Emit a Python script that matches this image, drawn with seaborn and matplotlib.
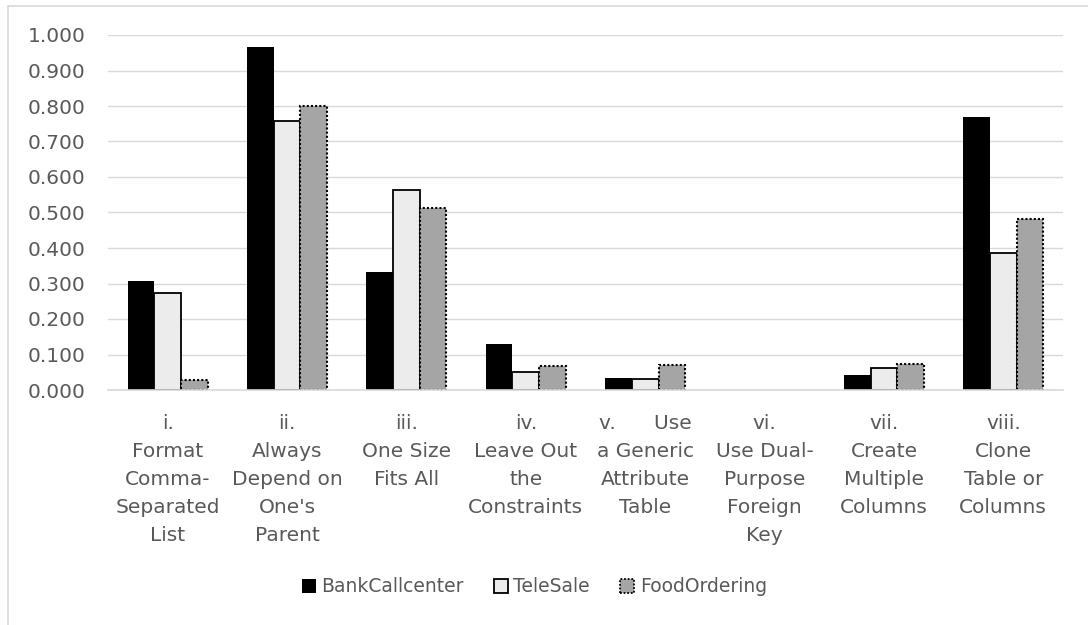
import matplotlib
matplotlib.use("Agg")
import matplotlib.pyplot as plt
from matplotlib.patches import Patch
from matplotlib.lines import Line2D
from matplotlib.ticker import FormatStrFormatter, MultipleLocator
import seaborn as sns
import pandas as pd

# Antipattern categories and scores per dataset
categories = [
    "i.\nFormat\nComma-\nSeparated\nList",
    "ii.\nAlways\nDepend on\nOne's\nParent",
    "iii.\nOne Size\nFits All",
    "iv.\nLeave Out\nthe\nConstraints",
    "v.      Use\na Generic\nAttribute\nTable",
    "vi.\nUse Dual-\nPurpose\nForeign\nKey",
    "vii.\nCreate\nMultiple\nColumns",
    "viii.\nClone\nTable or\nColumns",
]
series_names = ["BankCallcenter", "TeleSale", "FoodOrdering"]
bank_callcenter = [0.307, 0.967, 0.333, 0.130, 0.034, 0.000, 0.042, 0.770]
tele_sale = [0.274, 0.759, 0.563, 0.052, 0.030, 0.000, 0.061, 0.385]
food_ordering = [0.028, 0.800, 0.513, 0.068, 0.070, 0.000, 0.072, 0.483]

rows = []
for name, vals in zip(series_names, [bank_callcenter, tele_sale, food_ordering]):
    for cat, v in zip(categories, vals):
        rows.append({"category": cat, "series": name, "value": v})
df = pd.DataFrame(rows)

sns.set_style("white")
plt.rcParams["font.family"] = ["DejaVu Sans"]

TEXT = "#595959"
GRID = "#d9d9d9"
fills = {"BankCallcenter": "#000000", "TeleSale": "#ececec", "FoodOrdering": "#a5a5a5"}
edge_styles = {
    "BankCallcenter": dict(edgecolor="#000000", linewidth=0.0, linestyle="-"),
    "TeleSale": dict(edgecolor="#000000", linewidth=1.3, linestyle="-"),
    "FoodOrdering": dict(edgecolor="#000000", linewidth=1.5, linestyle=(0, (1, 1))),
}

fig = plt.figure(figsize=(10.88, 6.25), dpi=100)
ax = fig.add_axes([108 / 1088, 1 - 390 / 625, 955 / 1088, 355 / 625])

sns.barplot(
    data=df, x="category", y="value", hue="series",
    hue_order=series_names, order=categories,
    palette=fills, width=0.67, saturation=1.0,
    ax=ax, legend=False,
)

for name, container in zip(series_names, ax.containers):
    for bar in container:
        bar.set_linewidth(edge_styles[name]["linewidth"])
        bar.set_linestyle(edge_styles[name]["linestyle"])
        # empty bars get no outline
        bar.set_edgecolor(edge_styles[name]["edgecolor"] if bar.get_height() > 0 else "none")

ax.set_ylim(0, 1.0)
ax.set_xlim(-0.5, len(categories) - 0.5)
ax.yaxis.set_major_locator(MultipleLocator(0.1))
ax.yaxis.set_major_formatter(FormatStrFormatter("%.3f"))
ax.set_axisbelow(True)
ax.yaxis.grid(True, color=GRID, linewidth=1.0)
ax.xaxis.grid(False)

for side in ["top", "right", "left"]:
    ax.spines[side].set_visible(False)
ax.spines["bottom"].set_color(GRID)
ax.spines["bottom"].set_linewidth(1.2)

ax.set_xlabel("")
ax.set_ylabel("")
ax.tick_params(axis="both", length=0, colors=TEXT, labelsize=14.5)
ax.tick_params(axis="y", pad=16)
ax.tick_params(axis="x", pad=17)
for lbl in ax.get_xticklabels():
    lbl.set_multialignment("center")
    lbl.set_linespacing(1.6)

handles = [
    Patch(facecolor=fills["BankCallcenter"], edgecolor="#000000", linewidth=0.0),
    Patch(facecolor=fills["TeleSale"], edgecolor="#000000", linewidth=1.3),
    Patch(facecolor=fills["FoodOrdering"], edgecolor="#000000", linewidth=1.3, linestyle=(0, (1, 1))),
]
fig.legend(
    handles, series_names, loc="center", bbox_to_anchor=(0.491, 1 - 587 / 625),
    ncol=3, frameon=False, fontsize=13.5, labelcolor=TEXT,
    handlelength=0.75, handleheight=0.75, handletextpad=0.3, columnspacing=1.6,
)

# Chart-area border (left and top edges)
fig.add_artist(Line2D([8 / 1088, 8 / 1088], [0, 1 - 6 / 625], transform=fig.transFigure,
                      color=GRID, linewidth=1.2))
fig.add_artist(Line2D([8 / 1088, 1], [1 - 6 / 625, 1 - 6 / 625], transform=fig.transFigure,
                      color=GRID, linewidth=1.2))

fig.savefig("out.png", dpi=100, facecolor="white")
